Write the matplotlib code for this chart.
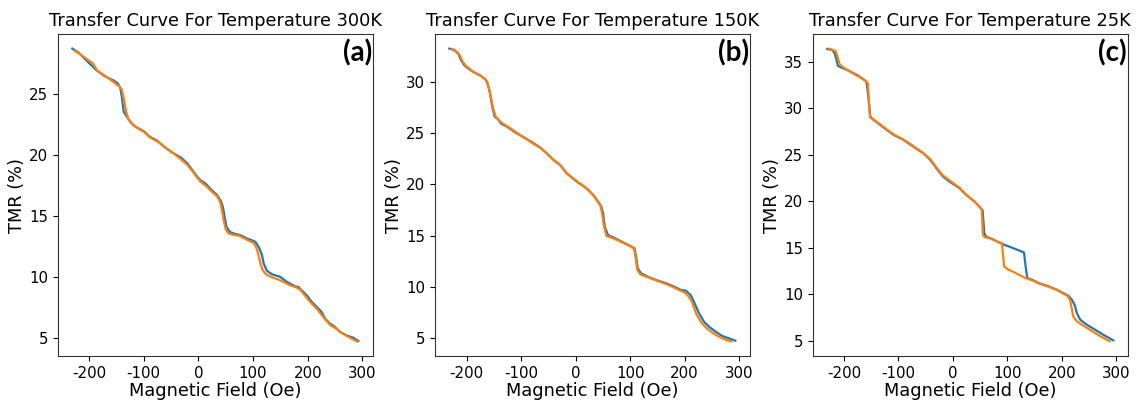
import matplotlib
matplotlib.use('Agg')
import matplotlib.pyplot as plt

plt.rcParams['axes.unicode_minus'] = False

titles = ['Transfer Curve For Temperature 300K',
          'Transfer Curve For Temperature 150K',
          'Transfer Curve For Temperature 25K']
tags = ['(a)', '(b)', '(c)']

# panel (a) 300K
field_a_blue = [-230.6, -220, -202, -187, -172, -153.5, -147.5, -143, -140, -136.5, -130.5,
                -123, -117, -99, -90, -75, -62.5, -47, -32, -20, -11, -2, 4, 13, 25.5, 34.6,
                41.9, 45.5, 48, 51.6, 57.6, 65, 77, 89, 101, 104.4, 110.4, 116.5, 119.5, 125.6,
                134.7, 149.9, 162, 177, 183, 189, 198.4, 207.5, 219.7, 225.7, 231.8, 240.9,
                250, 259, 271, 283.4, 292.5]
tmr_a_blue = [28.69, 28.4, 27.6, 26.94, 26.45, 26.04, 25.85, 25.5, 24.75, 23.5, 23.1,
              22.6, 22.35, 21.9, 21.5, 21.14, 20.65, 20.16, 19.77, 19.28, 18.73, 18.19, 17.9,
              17.64, 17.04, 16.68, 16.14, 15.59, 14.9, 14.08, 13.67, 13.54, 13.4, 13.13, 12.93,
              12.85, 12.44, 11.76, 11.07, 10.47, 10.2, 9.98, 9.57, 9.21, 9.16, 8.88, 8.47,
              7.93, 7.38, 7.1, 6.56, 6.15, 5.88, 5.47, 5.19, 5.0, 4.73]
field_a_orange = [-226, -215, -200, -193, -185, -172, -155, -145, -140, -136, -132, -128,
                  -122, -112, -99, -88, -72, -60, -45, -33, -20, -10, -2, 5, 15, 25, 35,
                  40, 43, 46, 50, 55, 62, 75, 90, 100, 105, 110, 114, 118, 125, 135, 150,
                  165, 180, 186, 195, 205, 218, 225, 232, 242, 252, 262, 275, 290]
tmr_a_orange = [28.5, 28.2, 27.7, 27.5, 26.9, 26.5, 25.95, 25.6, 25.35, 24.5, 23.5, 22.9,
                22.55, 22.2, 21.85, 21.4, 21.0, 20.55, 20.1, 19.65, 19.15, 18.6, 18.1,
                17.75, 17.4, 16.95, 16.55, 16.1, 15.5, 14.7, 13.9, 13.55, 13.45, 13.35, 13.0,
                12.8, 12.5, 11.8, 11.0, 10.5, 10.15, 9.95, 9.7, 9.35, 9.1, 8.95, 8.45,
                7.9, 7.3, 6.9, 6.5, 6.0, 5.75, 5.4, 5.05, 4.7]

# panel (b) 150K
field_b_blue = [-231.8, -222.7, -215.4, -210.6, -204.5, -198.4, -186, -174, -165, -162,
                -157.8, -153, -148.7, -142.6, -136.5, -125.6, -113.5, -95.3, -77, -65, -52.8,
                -40.7, -28.5, -16.4, 1.8, 20, 32.2, 41.3, 47.3, 50.4, 53.4, 59.5, 68.6, 86.8,
                98.9, 108, 111, 114, 120, 132.3, 147.5, 165.7, 177.8, 193, 202, 211, 217,
                226.3, 235.4, 244.5, 256.7, 268.8, 281, 293]
tmr_b_blue = [33.2, 33.08, 32.7, 32.1, 31.6, 31.3, 30.88, 30.55, 30.16, 29.84,
              29.03, 27.56, 26.6, 26.33, 25.88, 25.6, 25.13, 24.58, 23.99, 23.57, 23.0,
              22.37, 21.88, 21.07, 20.26, 19.6, 18.96, 18.31, 17.82, 17.18, 15.88, 15.03,
              14.84, 14.35, 14.03, 13.77, 12.95, 11.82, 11.33, 11.0, 10.68, 10.36, 10.1,
              9.71, 9.64, 9.22, 8.57, 7.44, 6.62, 6.14, 5.65, 5.23, 5.0, 4.77]
field_b_orange = [-227.5, -218, -212, -207, -200, -188, -175, -165, -161, -157, -152,
                  -147, -141, -134, -124, -112, -95, -78, -64, -52, -40, -28, -16, 2, 20,
                  32, 40, 46, 49, 52, 57, 68, 87, 99, 107, 110, 113, 119, 132, 147, 165,
                  178, 192, 200, 207, 213, 222, 231, 240, 252, 265, 278, 286]
tmr_b_orange = [33.15, 32.9, 32.5, 31.9, 31.45, 30.95, 30.6, 30.2, 29.8, 28.9, 27.5,
                26.6, 26.25, 25.9, 25.6, 25.15, 24.55, 23.95, 23.5, 22.95, 22.35, 21.85,
                21.05, 20.3, 19.6, 18.95, 18.35, 17.85, 17.0, 15.9, 14.95, 14.75, 14.3,
                14.0, 13.75, 12.9, 11.7, 11.2, 10.95, 10.65, 10.3, 10.0, 9.65, 9.45, 9.1,
                8.6, 7.3, 6.5, 6.0, 5.5, 5.1, 4.8, 4.7]

# panel (c) 25K
field_c_blue = [-230.6, -221.5, -217, -213.6, -211, -206, -194, -176, -164, -159, -157.8,
                -154.7, -151.7, -145.6, -133.5, -121.4, -109, -91, -72.8, -54.6, -42.5,
                -30.3, -18.2, -6, 12, 24.3, 39.4, 48.5, 54.6, 57.6, 60.7, 72.8, 85, 94, 103,
                115, 130.5, 133.5, 136.5, 145.6, 157.8, 176, 191, 200, 212, 218.4, 223.3,
                227.5, 233.6, 245.8, 261, 279, 294.3]
tmr_c_blue = [36.36, 36.26, 35.9, 35.18, 34.54, 34.4, 34.1, 33.57, 33.1, 32.86, 32.5,
              30.9, 29.1, 28.74, 28.2, 27.66, 27.13, 26.6, 25.87, 25.16, 24.5, 23.55, 22.65,
              22.1, 21.4, 20.68, 19.97, 19.43, 19.0, 16.56, 16.2, 15.92, 15.56, 15.31,
              15.13, 14.85, 14.49, 12.98, 11.73, 11.55, 11.19, 10.84, 10.48, 10.2, 9.83,
              9.4, 8.87, 7.97, 7.26, 6.72, 6.18, 5.54, 5.04]
field_c_orange = [-227.5, -220, -215, -212, -208, -200, -185, -170, -160, -156, -154,
                  -152, -145, -133, -121, -108, -90, -72, -55, -42, -30, -18, -5, 12, 24,
                  39, 48, 53, 55, 58, 70, 85, 90, 94, 100, 109, 121, 133.5, 145, 158, 176,
                  191, 200, 210, 215, 221, 227.5, 240, 255, 270, 288]
tmr_c_orange = [36.4, 36.25, 36.1, 35.6, 34.7, 34.35, 33.8, 33.3, 32.9, 32.7, 30.5,
                29.0, 28.75, 28.25, 27.7, 27.15, 26.6, 25.9, 25.2, 24.55, 23.6, 22.75,
                22.2, 21.45, 20.7, 20.0, 19.45, 19.1, 16.4, 16.15, 15.95, 15.55, 15.5, 13.0,
                12.7, 12.45, 12.1, 11.73, 11.5, 11.15, 10.8, 10.45, 10.15, 9.85, 9.4, 7.6,
                7.08, 6.6, 6.05, 5.5, 4.93]

blue = [(field_a_blue, tmr_a_blue), (field_b_blue, tmr_b_blue), (field_c_blue, tmr_c_blue)]
orange = [(field_a_orange, tmr_a_orange), (field_b_orange, tmr_b_orange),
          (field_c_orange, tmr_c_orange)]

fig = plt.figure(figsize=(11.46, 4.01), dpi=100)
lefts = [0.0506, 0.3796, 0.7094]

for i in range(3):
    ax = fig.add_axes([lefts[i], 0.1122, 0.2745, 0.803])
    ax.plot(blue[i][0], blue[i][1], color='#1f77b4', lw=1.6)
    ax.plot(orange[i][0], orange[i][1], color='#ff7f0e', lw=1.6)
    ax.set_xticks([-200, -100, 0, 100, 200, 300])
    ax.set_title(titles[i], fontsize=12.8)
    ax.set_xlabel('Magnetic Field (Oe)', fontsize=12.8, labelpad=1)
    ax.set_ylabel('TMR (%)', fontsize=12.8, labelpad=2)
    ax.tick_params(labelsize=10.8)
    for s in ax.spines.values():
        s.set_color('#333333')
    ax.text(0.998, 0.985, tags[i], transform=ax.transAxes, ha='right', va='top',
            fontsize=20, fontweight='bold', family='Lato')

fig.savefig('out.png', dpi=100)
